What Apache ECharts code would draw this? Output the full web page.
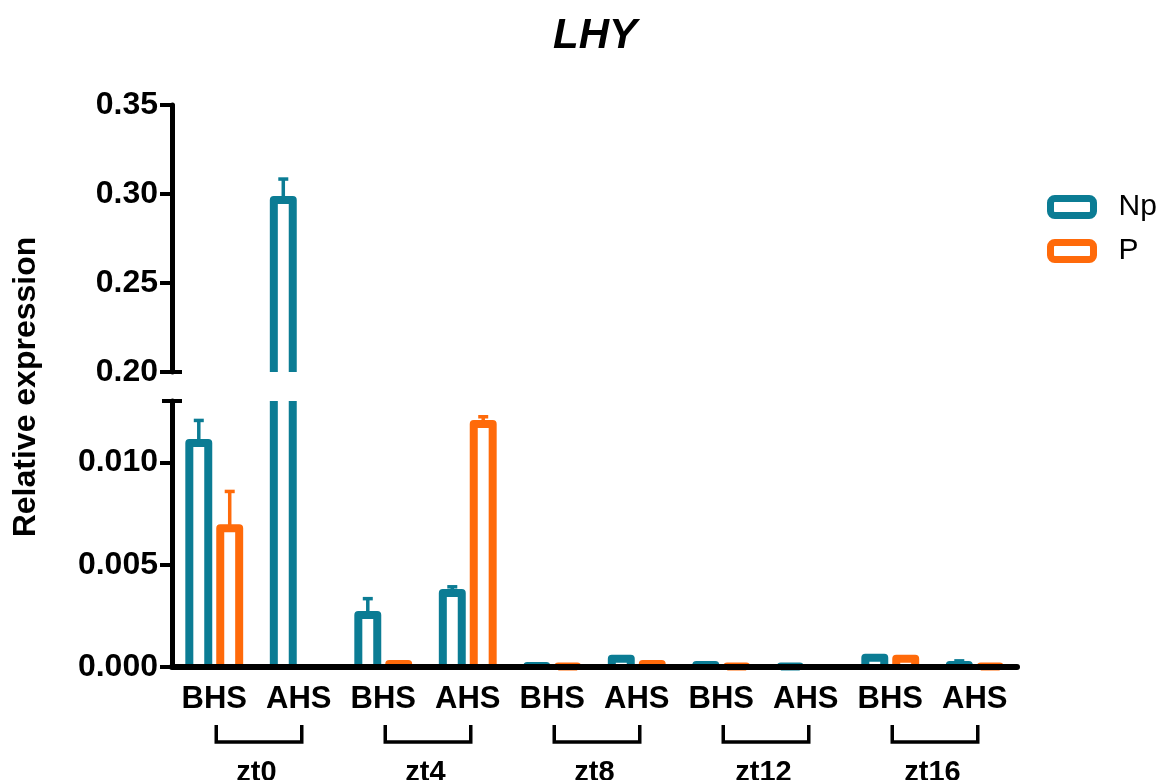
<!DOCTYPE html>
<html><head><meta charset="utf-8">
<script src="https://cdn.jsdelivr.net/npm/echarts@6/dist/echarts.min.js"></script>
<style>html,body{margin:0;padding:0;background:#fff}#c{width:1163px;height:780px}</style>
</head><body><div id="c"></div>
<script>
// ---- data ----
const timepoints = ['zt0', 'zt4', 'zt8', 'zt12', 'zt16'];
const conditions = ['BHS', 'AHS'];
const npMean = [0.01095, 0.2966, 0.00254, 0.00362, 0.00005, 0.0004, 0.0001, 0.00002, 0.00045, 0.0001];
const npErr  = [0.0011, 0.0118, 0.0008, 0.0003, 0, 0, 0, 0, 0, 0.0002];
const pMean  = [0.00678, 0, 0.00015, 0.01188, 0.00002, 0.00015, 0.00002, 0, 0.0004, 0.00003];
const pErr   = [0.0018, 0, 0, 0.00035, 0, 0, 0, 0, 0.0001, 0];

const categories = [];
timepoints.forEach(t => conditions.forEach(c => categories.push(t + '|' + c)));

const TEAL = '#0b7c94', ORANGE = '#ff6a0a';
const FONT = "'Liberation Sans', Arial, Helvetica, sans-serif";
const LOW_MAX = 0.013, HIGH_MIN = 0.20, HIGH_MAX = 0.35;

function barRenderer(offset, color, part) {
  return function (params, api) {
    const idx = api.value(0), v = api.value(1), e = api.value(2);
    if (!(v > 0)) return null;
    const band = api.size([1, 0])[0];
    const cs = params.coordSys;
    const cx = api.coord([idx, part === 'low' ? 0 : HIGH_MIN])[0] + offset * band;
    const hw = 0.112 * band;
    const st = { stroke: color, fill: null, lineWidth: 8, lineJoin: 'round' };
    const est = { stroke: color, fill: null, lineWidth: 3.5 };
    const children = [];
    let base, top, showErr = e > 0;
    if (part === 'low') {
      base = api.coord([idx, 0])[1];
      if (v > LOW_MAX) {
        top = cs.y;
        children.push({ type: 'line', shape: { x1: cx - hw, y1: base, x2: cx - hw, y2: top }, style: st });
        children.push({ type: 'line', shape: { x1: cx + hw, y1: base, x2: cx + hw, y2: top }, style: st });
        showErr = false;
      } else {
        top = api.coord([idx, v])[1];
        children.push({ type: 'polyline', shape: { points: [[cx - hw, base], [cx - hw, top], [cx + hw, top], [cx + hw, base]] }, style: st });
        if (v + e > LOW_MAX) showErr = false;
      }
    } else {
      if (v <= HIGH_MIN) return null;
      base = cs.y + cs.height;
      top = api.coord([idx, v])[1];
      children.push({ type: 'polyline', shape: { points: [[cx - hw, base], [cx - hw, top], [cx + hw, top], [cx + hw, base]] }, style: st });
    }
    if (showErr) {
      const ey = api.coord([idx, v + e])[1];
      children.push({ type: 'line', shape: { x1: cx, y1: top, x2: cx, y2: ey }, style: est });
      children.push({ type: 'line', shape: { x1: cx - 5, y1: ey, x2: cx + 5, y2: ey }, style: est });
    }
    return { type: 'group', children };
  };
}

function bracketRenderer(params, api) {
  const x1 = api.coord([api.value(0), 0])[0] + 2;
  const x2 = api.coord([api.value(1), 0])[0] + 3;
  const base = api.coord([0, 0])[1];
  const y1 = base + 58, y2 = base + 75;
  return { type: 'polyline', shape: { points: [[x1, y1], [x1, y2], [x2, y2], [x2, y1]] },
    style: { stroke: '#000', fill: null, lineWidth: 3.5, lineJoin: 'miter' } };
}

const toRows = (m, e) => m.map((v, i) => [i, v, e[i]]);

const chart = echarts.init(document.getElementById('c'), null, { renderer: 'canvas' });
const yCommon = {
  type: 'value',
  splitLine: { show: false },
  axisLine: { show: true, lineStyle: { color: '#000', width: 5 } },
  axisTick: { show: true, length: 12, lineStyle: { color: '#000', width: 4 } },
  axisLabel: { color: '#000', fontFamily: FONT, fontWeight: 'bold', fontSize: 32, margin: 14 },
  z: 5
};
const yTitle = { type: 'text', rotation: Math.PI / 2, x: 26, y: 387,
  style: { text: 'Relative expression', fontFamily: FONT, fontWeight: 'bold', fontSize: 32, fill: '#000',
    textAlign: 'center', textVerticalAlign: 'middle' } };
chart.setOption({
  animation: false,
  backgroundColor: '#fff',
  title: {
    text: 'LHY', left: 548, top: 10,
    textStyle: { fontFamily: FONT, fontSize: 42, fontWeight: 'bold', fontStyle: 'italic', color: '#000' }
  },
  legend: {
    orient: 'vertical', left: 1042, top: 187, itemWidth: 43, itemHeight: 17, itemGap: 14,
    textStyle: { fontFamily: FONT, fontSize: 30, color: '#000', padding: [0, 0, 0, 20] },
    data: [
      { name: 'Np', icon: 'roundRect', itemStyle: { color: '#fff', borderColor: TEAL, borderWidth: 7 } },
      { name: 'P', icon: 'roundRect', itemStyle: { color: '#fff', borderColor: ORANGE, borderWidth: 7 } }
    ]
  },
  grid: [
    { left: 172, top: 105, width: 845, height: 267, outerBoundsMode: 'none' },
    { left: 172, top: 401, width: 845, height: 266, outerBoundsMode: 'none' }
  ],
  xAxis: [
    { type: 'category', gridIndex: 0, data: categories, show: false },
    {
      type: 'category', gridIndex: 1, data: categories, z: 5,
      axisLine: { lineStyle: { color: '#000', width: 6 } },
      axisTick: { length: 10, alignWithLabel: true, lineStyle: { color: '#000', width: 4 } },
      axisLabel: { color: '#000', fontFamily: FONT, fontWeight: 'bold', fontSize: 31, margin: 17, interval: 0,
        formatter: v => v.split('|')[1] }
    },
    {
      type: 'category', gridIndex: 1, data: timepoints, position: 'bottom', offset: 83,
      axisLine: { show: false }, axisTick: { show: false },
      axisLabel: { color: '#000', fontFamily: FONT, fontWeight: 'bold', fontSize: 29, margin: 8, interval: 0 }
    }
  ],
  yAxis: [
    Object.assign({}, yCommon, { gridIndex: 0, min: HIGH_MIN, max: HIGH_MAX, interval: 0.05,
      axisLabel: Object.assign({}, yCommon.axisLabel, { formatter: v => v.toFixed(2) }) }),
    Object.assign({}, yCommon, { gridIndex: 1, min: 0, max: LOW_MAX, interval: 0.005,
      axisLabel: Object.assign({}, yCommon.axisLabel, { showMaxLabel: false, formatter: v => v.toFixed(3) }) })
  ],
  graphic: [yTitle],
  series: [
    { name: 'Np', type: 'custom', xAxisIndex: 1, yAxisIndex: 1, z: 2, itemStyle: { color: TEAL },
      encode: { x: 0, y: 1 }, data: toRows(npMean, npErr), renderItem: barRenderer(-0.183, TEAL, 'low') },
    { name: 'P', type: 'custom', xAxisIndex: 1, yAxisIndex: 1, z: 2, itemStyle: { color: ORANGE },
      encode: { x: 0, y: 1 }, data: toRows(pMean, pErr), renderItem: barRenderer(0.183, ORANGE, 'low') },
    { name: 'Np', type: 'custom', xAxisIndex: 0, yAxisIndex: 0, z: 2, itemStyle: { color: TEAL },
      encode: { x: 0, y: 1 }, data: toRows(npMean, npErr), renderItem: barRenderer(-0.183, TEAL, 'high') },
    { name: 'P', type: 'custom', xAxisIndex: 0, yAxisIndex: 0, z: 2, itemStyle: { color: ORANGE },
      encode: { x: 0, y: 1 }, data: toRows(pMean, pErr), renderItem: barRenderer(0.183, ORANGE, 'high') },
    { name: 'brackets', type: 'custom', xAxisIndex: 1, yAxisIndex: 1, z: 2, silent: true,
      encode: { x: [0, 1], y: 2 }, data: timepoints.map((t, i) => [2 * i, 2 * i + 1, 0]), renderItem: bracketRenderer }
  ]
});
// break caps on the value axis, placed through the axes' own scales
const capLow = chart.convertToPixel({ xAxisIndex: 1, yAxisIndex: 1 }, [0, LOW_MAX]);
const capHigh = chart.convertToPixel({ xAxisIndex: 0, yAxisIndex: 0 }, [0, HIGH_MIN]);
const axisX = chart.getModel().getComponent('grid', 1).coordinateSystem.getRect().x;
chart.setOption({
  graphic: [
    yTitle,
    { type: 'line', z: 10, shape: { x1: axisX - 10, y1: capLow[1], x2: axisX + 10, y2: capLow[1] }, style: { stroke: '#000', lineWidth: 4 } },
    { type: 'line', z: 10, shape: { x1: axisX - 10, y1: capHigh[1], x2: axisX + 10, y2: capHigh[1] }, style: { stroke: '#000', lineWidth: 4 } }
  ]
});
</script></body></html>
